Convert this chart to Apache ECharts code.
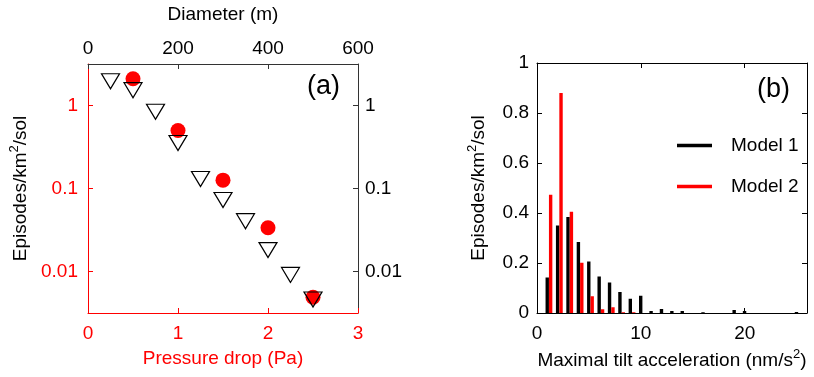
<!DOCTYPE html>
<html>
<head>
<meta charset="utf-8">
<script src="https://cdn.jsdelivr.net/npm/echarts@6/dist/echarts.min.js"></script>
<style>
html,body{margin:0;padding:0;background:#fff;}
#chart{width:814px;height:377px;}
</style>
</head>
<body>
<div id="chart"></div>
<script>
// ---- Panel (a) data ----
const pressureDrop = [0.5, 1.0, 1.5, 2.0, 2.5];            // Pa (bottom axis)
const circleRate   = [2.10, 0.50, 0.126, 0.0336, 0.0049];  // episodes/km2/sol
const diameter     = [50, 100, 150, 200, 250, 300, 350, 400, 450, 500]; // m (top axis)
const triangleRate = [1.96, 1.53, 0.84, 0.353, 0.13, 0.0726, 0.0404, 0.0181, 0.0091, 0.0046];

// ---- Panel (b) data ----
const binCenters = [1.15, 2.15, 3.15, 4.15, 5.15, 6.15, 7.15, 8.15, 9.15, 10.15, 11.15, 12.15, 13.15,
                    14.15, 15.15, 16.15, 17.15, 18.15, 19.15, 20.15, 21.15, 22.15, 23.15, 24.15, 25.15];
const model1 = [0.142, 0.350, 0.384, 0.284, 0.206, 0.146, 0.122, 0.084, 0.057, 0.069, 0.008, 0.016, 0.008,
                0.008, 0, 0.003, 0, 0, 0.012, 0.008, 0, 0, 0, 0, 0.004];
const model2 = [0.473, 0.880, 0.405, 0.201, 0.067, 0.015, 0.023, 0.003, 0.003, 0, 0, 0, 0,
                0, 0, 0, 0, 0, 0, 0, 0, 0, 0, 0, 0];
const seriesNames = ['Model 1', 'Model 2'];

const FONT = 'Liberation Sans, Arial, Helvetica, sans-serif';
const FS = 19;
const RED = '#ff0000';

function pairs(xs, ys) { return xs.map((x, i) => [x, ys[i]]); }

const logLabel = v => {
  const l = Math.log10(v);
  if (Math.abs(l - Math.round(l)) > 1e-6) return '';
  return String(+v.toPrecision(3));
};

const supRich = {
  a: { fontSize: FS, fontFamily: FONT, color: '#000', lineHeight: 26 },
  s: { fontSize: 13, fontFamily: FONT, color: '#000', lineHeight: 13, verticalAlign: 'top' }
};

function line(color) { return { show: true, onZero: false, lineStyle: { color: color, width: 1 } }; }
function tick(color) { return { show: true, inside: true, length: 5, lineStyle: { color: color, width: 1 } }; }

const chart = echarts.init(document.getElementById('chart'), null, { renderer: 'canvas' });
chart.setOption({
  animation: false,
  textStyle: { fontFamily: FONT },
  grid: [
    { left: 88, top: 64, width: 270, height: 249, containLabel: false },
    { left: 537, top: 63, width: 270, height: 250, containLabel: false }
  ],
  xAxis: [
    { // pressure drop (bottom, red)
      gridIndex: 0, type: 'value', position: 'bottom', min: 0, max: 3, interval: 1,
      name: 'Pressure drop (Pa)', nameLocation: 'middle', nameGap: 36,
      nameTextStyle: { color: RED, fontSize: FS, fontFamily: FONT },
      axisLine: line(RED), axisTick: tick(RED),
      axisLabel: { color: RED, fontSize: FS, fontFamily: FONT, margin: 11 },
      splitLine: { show: false }
    },
    { // diameter (top, black)
      gridIndex: 0, type: 'value', position: 'top', min: 0, max: 600, interval: 200,
      name: 'Diameter (m)', nameLocation: 'middle', nameGap: 40,
      nameTextStyle: { color: '#000', fontSize: FS, fontFamily: FONT },
      axisLine: line('#333'), axisTick: tick('#333'),
      axisLabel: { color: '#000', fontSize: FS, fontFamily: FONT, margin: 6 },
      splitLine: { show: false }
    },
    { // tilt acceleration (bottom)
      gridIndex: 1, type: 'value', position: 'bottom', min: 0, max: 26, interval: 10,
      name: '{a|Maximal tilt acceleration (nm/s}{s|2}{a|)}', nameLocation: 'middle', nameGap: 35,
      nameTextStyle: { fontSize: FS, fontFamily: FONT, rich: supRich },
      axisLine: line('#000'), axisTick: tick('#000'),
      axisLabel: { color: '#000', fontSize: FS, fontFamily: FONT, margin: 11, showMaxLabel: false },
      splitLine: { show: false }
    },
    { // top frame of (b)
      gridIndex: 1, type: 'value', position: 'top', min: 0, max: 26, interval: 10,
      axisLine: line('#000'), axisTick: tick('#000'),
      axisLabel: { show: false },
      splitLine: { show: false }
    }
  ],
  yAxis: [
    { // left log (red)
      gridIndex: 0, type: 'log', logBase: 10, min: Math.pow(10, -2.5), max: Math.pow(10, 0.5), position: 'left',
      name: '{a|Episodes/km}{s|2}{a|/sol}', nameLocation: 'middle', nameRotate: 90, nameGap: 54,
      nameTextStyle: { fontSize: FS, fontFamily: FONT, rich: supRich },
      axisLine: line(RED), axisTick: tick(RED),
      axisLabel: { color: RED, fontSize: FS, fontFamily: FONT, margin: 10, formatter: logLabel,
                   showMinLabel: false, showMaxLabel: false },
      splitLine: { show: false }
    },
    { // right log (black)
      gridIndex: 0, type: 'log', logBase: 10, min: Math.pow(10, -2.5), max: Math.pow(10, 0.5), position: 'right',
      axisLine: line('#333'), axisTick: tick('#333'),
      axisLabel: { color: '#000', fontSize: FS, fontFamily: FONT, margin: 7, formatter: logLabel,
                   showMinLabel: false, showMaxLabel: false },
      splitLine: { show: false }
    },
    { // (b) left
      gridIndex: 1, type: 'value', min: 0, max: 1, interval: 0.2, position: 'left',
      name: '{a|Episodes/km}{s|2}{a|/sol}', nameLocation: 'middle', nameRotate: 90, nameGap: 45,
      nameTextStyle: { fontSize: FS, fontFamily: FONT, rich: supRich },
      axisLine: line('#000'), axisTick: tick('#000'),
      axisLabel: { color: '#000', fontSize: FS, fontFamily: FONT, margin: 8 },
      splitLine: { show: false }
    },
    { // (b) right frame
      gridIndex: 1, type: 'value', min: 0, max: 1, interval: 0.2, position: 'right',
      axisLine: line('#000'), axisTick: tick('#000'),
      axisLabel: { show: false },
      splitLine: { show: false }
    }
  ],
  legend: {
    data: seriesNames,
    orient: 'vertical', left: 672, top: 131, itemGap: 22,
    icon: 'rect', itemWidth: 35, itemHeight: 3.5,
    textStyle: { fontSize: FS, fontFamily: FONT, color: '#000', padding: [0, 0, 0, 14] },
    selectedMode: false
  },
  graphic: [
    { type: 'text', left: 307, top: 73, style: { text: '(a)', font: '27px ' + FONT, fill: '#000' } },
    { type: 'text', left: 757, top: 76, style: { text: '(b)', font: '27px ' + FONT, fill: '#000' } }
  ],
  series: [
    {
      type: 'scatter', xAxisIndex: 0, yAxisIndex: 0,
      data: pairs(pressureDrop, circleRate),
      symbol: 'circle', symbolSize: 15,
      itemStyle: { color: RED, opacity: 1 },
      z: 2
    },
    {
      type: 'scatter', xAxisIndex: 1, yAxisIndex: 0,
      data: pairs(diameter, triangleRate),
      symbol: 'triangle', symbolSize: [18, 15], symbolRotate: 180,
      itemStyle: { color: 'rgba(0,0,0,0)', borderColor: '#000', borderWidth: 1.2, opacity: 1 },
      z: 3
    },
    {
      name: seriesNames[0], type: 'bar', xAxisIndex: 2, yAxisIndex: 2,
      data: pairs(binCenters, model1),
      barWidth: 3.4, barGap: '0%',
      itemStyle: { color: '#000' }
    },
    {
      name: seriesNames[1], type: 'bar', xAxisIndex: 2, yAxisIndex: 2,
      data: pairs(binCenters, model2),
      barWidth: 3.4, barGap: '0%',
      itemStyle: { color: RED }
    }
  ]
});
</script>
</body>
</html>
